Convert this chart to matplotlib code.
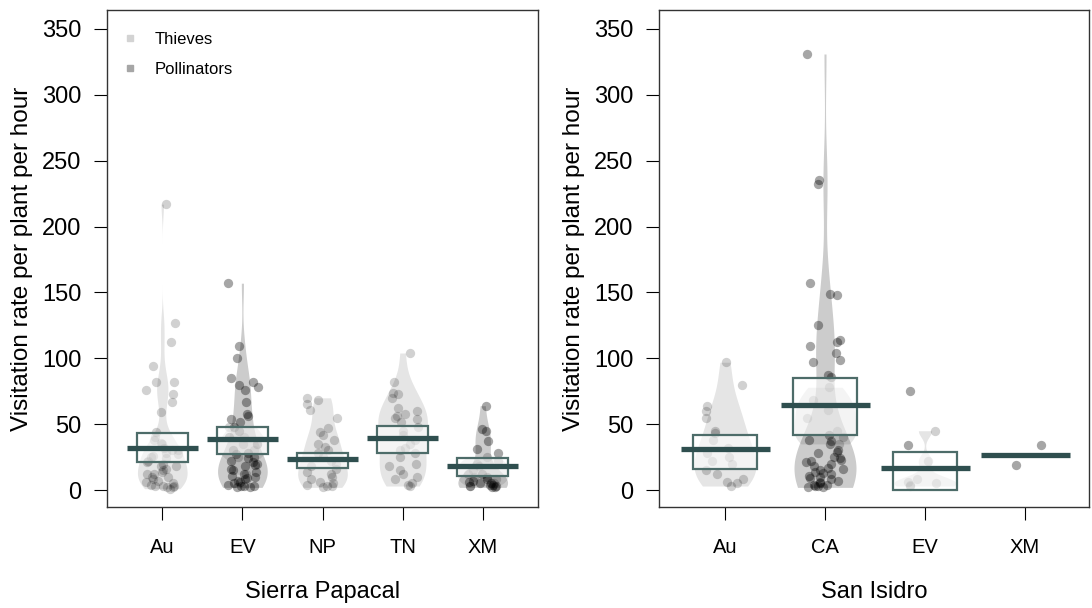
import matplotlib
matplotlib.use("Agg")
import matplotlib.pyplot as plt
from matplotlib.patches import Rectangle
import numpy as np

plt.rcParams['font.family'] = ['Liberation Sans', 'DejaVu Sans']

# Sierra Papacal
sp_groups = ["Au", "EV", "NP", "TN", "XM"]
sp_thieves = [
    [217, 127, 112, 94, 82, 82, 76, 73, 67, 59, 44, 40, 38, 36, 35, 32, 30, 30, 28, 27, 26, 25, 24, 22,
     21, 20, 18, 18, 16, 15, 14, 12, 12, 10, 10, 8, 7, 6, 5, 4, 3, 3, 3, 2, 2, 1],
    [48, 40, 35, 30, 25, 12],
    [70, 68, 65, 61, 55, 47, 44, 42, 38, 35, 33, 30, 28, 25, 22, 20, 18, 16, 14, 12, 10, 8, 6, 5, 4, 3, 3, 2],
    [104, 82, 74, 73, 70, 62, 60, 58, 56, 55, 54, 52, 48, 45, 42, 38, 35, 32, 30, 28, 25, 20, 18, 15, 12, 10, 8, 5, 4, 3],
    [25, 22, 20, 18, 15, 12, 10, 8, 5, 3],
]
sp_pollinators = [
    [],
    [157, 109, 100, 85, 82, 80, 78, 76, 67, 58, 56, 54, 52, 48, 45, 40, 35, 30, 28, 27, 25, 24, 22, 21, 20,
     19, 18, 16, 15, 14, 12, 11, 10, 9, 8, 7, 6, 5, 4, 3, 3, 3, 2, 2],
    [],
    [],
    [64, 46, 45, 37, 31, 28, 12, 10, 8, 7, 6, 5, 5, 4, 4, 3, 3, 2, 2],
]
sp_mean = [32, 39, 23.5, 39.5, 18]
sp_box_lo = [21.3, 27, 16.5, 28, 10.6]
sp_box_hi = [43.3, 47.8, 28, 48.5, 24.6]

# San Isidro
si_groups = ["Au", "CA", "EV", "XM"]
si_thieves = [
    [97, 80, 64, 60, 55, 45, 43, 38, 32, 28, 25, 22, 20, 15, 12, 8, 6, 5, 3],
    [78, 68, 61, 55, 45, 40, 35],
    [45, 22, 8, 6, 5, 4, 3],
    [],
]
si_pollinators = [
    [],
    [331, 235, 232, 157, 149, 148, 125, 114, 112, 109, 104, 99, 97, 87, 86, 42, 38, 37, 35, 30, 29, 28,
     25, 24, 23, 22, 21, 20, 18, 17, 16, 15, 14, 13, 12, 11, 10, 9, 8, 7, 6, 5, 4, 4, 3, 3, 2, 2],
    [75, 34],
    [34, 19],
]
si_mean = [31, 64.8, 16.7, 26.5]
si_box_lo = [16.3, 41.5, 0, None]
si_box_hi = [41.8, 85, 29, None]

box_edge = "#4d6c69"
line_col = "#2f4f4f"
rng = np.random.default_rng(7)


def bean(ax, x, vals, alpha):
    v = np.asarray(vals, float)
    if len(v) < 3:
        return
    sd = v.std(ddof=1)
    iqr = np.subtract(*np.percentile(v, [75, 25]))
    bw = 0.9 * min(sd, iqr / 1.34) * len(v) ** -0.2
    grid = np.linspace(v.min(), v.max(), 400)
    dens = np.exp(-0.5 * ((grid[:, None] - v[None, :]) / bw) ** 2).sum(axis=1)
    w = dens / dens.max() * 0.31
    ax.fill_betweenx(grid, x - w, x + w, color="black", alpha=alpha, lw=0)


def pirate(ax, groups, thieves, polls, means, lo, hi):
    for i in range(len(groups)):
        x = i + 1
        bean(ax, x, thieves[i], 0.1)
        bean(ax, x, polls[i], 0.2)
        for vals, a in ((thieves[i], 0.18), (polls[i], 0.35)):
            if len(vals):
                jit = rng.uniform(-0.2, 0.2, len(vals))
                ax.scatter(x + jit, vals, s=45, color="black", alpha=a, lw=0, zorder=3)
        if lo[i] is not None:
            ax.add_patch(Rectangle((x - 0.32, lo[i]), 0.64, hi[i] - lo[i], facecolor="white",
                                   alpha=0.6, lw=0, zorder=4))
            ax.add_patch(Rectangle((x - 0.32, lo[i]), 0.64, hi[i] - lo[i], facecolor="none",
                                   edgecolor=box_edge, lw=1.6, zorder=5))
        ax.plot([x - 0.445, x + 0.445], [means[i], means[i]], color=line_col, lw=3.8,
                solid_capstyle="butt", zorder=6)
    ax.set_xticks(range(1, len(groups) + 1))
    ax.set_xticklabels(groups)
    ax.set_ylim(-12.9, 364.4)
    ax.set_yticks(range(0, 351, 50))
    ax.tick_params(axis="y", length=9.4, width=0.8, pad=9, labelsize=17)
    ax.tick_params(axis="x", length=9.4, width=0.8, pad=13, labelsize=14.5)
    for s in ax.spines.values():
        s.set_color("#333333")
        s.set_linewidth(1.0)
    ax.text(-0.197, 0.5, "Visitation rate per plant per hour", transform=ax.transAxes,
            rotation=90, ha="center", va="center", fontsize=17.5)


fig = plt.figure(figsize=(10.92, 6.08), dpi=100)
ax1 = fig.add_axes([107 / 1092, 101 / 608, 431 / 1092, 497 / 608])
ax2 = fig.add_axes([659 / 1092, 101 / 608, 430 / 1092, 497 / 608])

pirate(ax1, sp_groups, sp_thieves, sp_pollinators, sp_mean, sp_box_lo, sp_box_hi)
ax1.set_xlim(0.31, 5.69)
pirate(ax2, si_groups, si_thieves, si_pollinators, si_mean, si_box_lo, si_box_hi)
ax2.set_xlim(0.34, 4.64)

ax1.text(0.5, -0.171, "Sierra Papacal", transform=ax1.transAxes, ha="center", va="center", fontsize=17)
ax2.text(0.5, -0.171, "San Isidro", transform=ax2.transAxes, ha="center", va="center", fontsize=17)

# legend
legend_labels = ["Thieves", "Pollinators"]
legend_cols = ["#d3d3d3", "#a6a6a6"]
for lab, col, yy in zip(legend_labels, legend_cols, [0.940, 0.880]):
    ax1.plot(0.053, yy + 0.003, marker="s", ms=4.5, color=col, transform=ax1.transAxes, clip_on=False)
    ax1.text(0.111, yy, lab, transform=ax1.transAxes, ha="left", va="center", fontsize=12)

fig.savefig("out.png", dpi=100)
